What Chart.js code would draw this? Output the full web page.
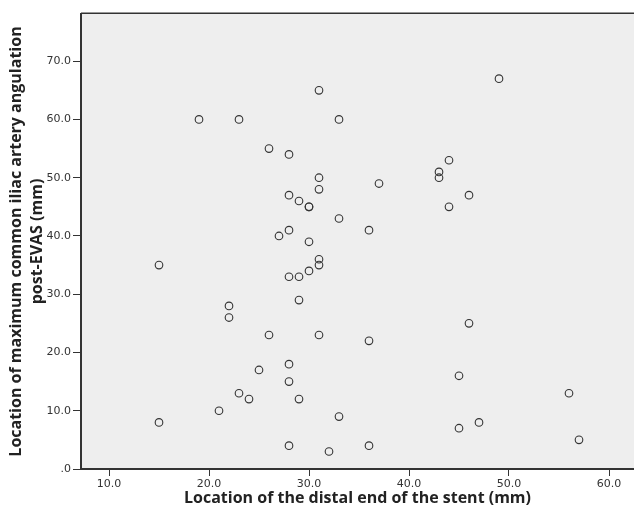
<!DOCTYPE html>
<html>
<head>
<meta charset="utf-8">
<script src="https://cdn.jsdelivr.net/npm/chart.js@4"></script>
<style>
  body { margin: 0; background: #fff; }
  canvas { display: block; }
</style>
</head>
<body>
<canvas id="myChart" width="634" height="516"></canvas>
<script>
// location of distal end of the stent (mm)
var stentEnd = [31, 19, 23, 33, 26, 28, 31, 31, 28, 29, 30, 30, 33, 28, 27, 30,
  49, 44, 43, 43, 37, 46, 44, 36, 15, 31, 31, 30, 28, 29, 29, 22, 22, 26, 31,
  28, 25, 28, 23, 24, 29, 21, 15, 33, 28, 32, 46, 36, 45, 56, 47, 45, 57, 36];
// location of max common iliac artery angulation post-EVAS (mm)
var angulation = [65, 60, 60, 60, 55, 54, 50, 48, 47, 46, 45, 45, 43, 41, 40, 39,
  67, 53, 51, 50, 49, 47, 45, 41, 35, 36, 35, 34, 33, 33, 29, 28, 26, 23, 23,
  18, 17, 15, 13, 12, 12, 10, 8, 9, 4, 3, 25, 22, 16, 13, 8, 7, 5, 4];

var xTicks = [10, 20, 30, 40, 50, 60];
var yTicks = [0, 10, 20, 30, 40, 50, 60, 70];

var xTitle = "Location of the distal end of the stent (mm)";
var yTitle = ["Location of maximum common iliac artery angulation", "post-EVAS (mm)"];

function spssLabel(v) {
  return v === 0 ? ".0" : v.toFixed(1);
}

var points = stentEnd.map(function (x, i) {
  return { x: x, y: angulation[i] };
});

// fond gris de la zone de tracé + trait du haut
var plotBackground = {
  id: "plotBackground",
  beforeDraw: function (chart) {
    var a = chart.chartArea;
    var ctx = chart.ctx;
    ctx.save();
    ctx.fillStyle = "#eeeeee";
    ctx.fillRect(a.left, a.top, a.right - a.left, a.bottom - a.top);
    ctx.fillStyle = "#333333";
    ctx.fillRect(a.left, a.top - 1.5, a.right - a.left, 1.5);
    ctx.restore();
  }
};

var ctx = document.getElementById("myChart").getContext("2d");
new Chart(ctx, {
  type: "scatter",
  data: {
    datasets: [{
      data: points,
      pointStyle: "circle",
      pointRadius: 3.8,
      pointHoverRadius: 3.8,
      pointBorderWidth: 1.1,
      borderColor: "#333333",
      backgroundColor: "rgba(0,0,0,0)"
    }]
  },
  options: {
    responsive: false,
    animation: false,
    events: [],
    layout: { autoPadding: false, padding: { top: 14, left: 0, right: 0, bottom: 0 } },
    plugins: {
      legend: { display: false },
      tooltip: { enabled: false }
    },
    scales: {
      x: {
        type: "linear",
        min: 7.2,
        max: 62.5,
        afterFit: function (scale) {
          scale.height = 47;
          scale.paddingLeft = 0;
          scale.paddingRight = 0;
        },
        afterBuildTicks: function (scale) {
          scale.ticks = xTicks.map(function (v) { return { value: v }; });
        },
        grid: {
          drawOnChartArea: false,
          tickLength: 7,
          tickColor: "#333333",
          tickWidth: 1
        },
        border: { color: "#333333", width: 2 },
        ticks: {
          color: "#333333",
          padding: 2,
          maxRotation: 0,
          font: { family: "DejaVu Sans", size: 11 },
          callback: function (v) { return spssLabel(v); }
        },
        title: {
          display: true,
          text: xTitle,
          color: "#222222",
          padding: { top: 0, bottom: 8 },
          font: { family: "Open Sans", size: 16, weight: "bold", lineHeight: 1.2 }
        }
      },
      y: {
        type: "linear",
        min: 0,
        max: 78.1,
        afterFit: function (scale) {
          scale.width = 81;
          scale.paddingTop = 0;
          scale.paddingBottom = 0;
        },
        afterBuildTicks: function (scale) {
          scale.ticks = yTicks.map(function (v) { return { value: v }; });
        },
        grid: {
          drawOnChartArea: false,
          tickLength: 8,
          tickColor: "#333333",
          tickWidth: 1
        },
        border: { color: "#333333", width: 2 },
        ticks: {
          color: "#333333",
          padding: 2,
          font: { family: "DejaVu Sans", size: 11 },
          callback: function (v) { return spssLabel(v); }
        },
        title: {
          display: true,
          text: yTitle,
          color: "#222222",
          padding: { top: 6, bottom: 0 },
          font: { family: "Open Sans", size: 16, weight: "bold", lineHeight: 1.3 }
        }
      }
    }
  },
  plugins: [plotBackground]
});
</script>
</body>
</html>
